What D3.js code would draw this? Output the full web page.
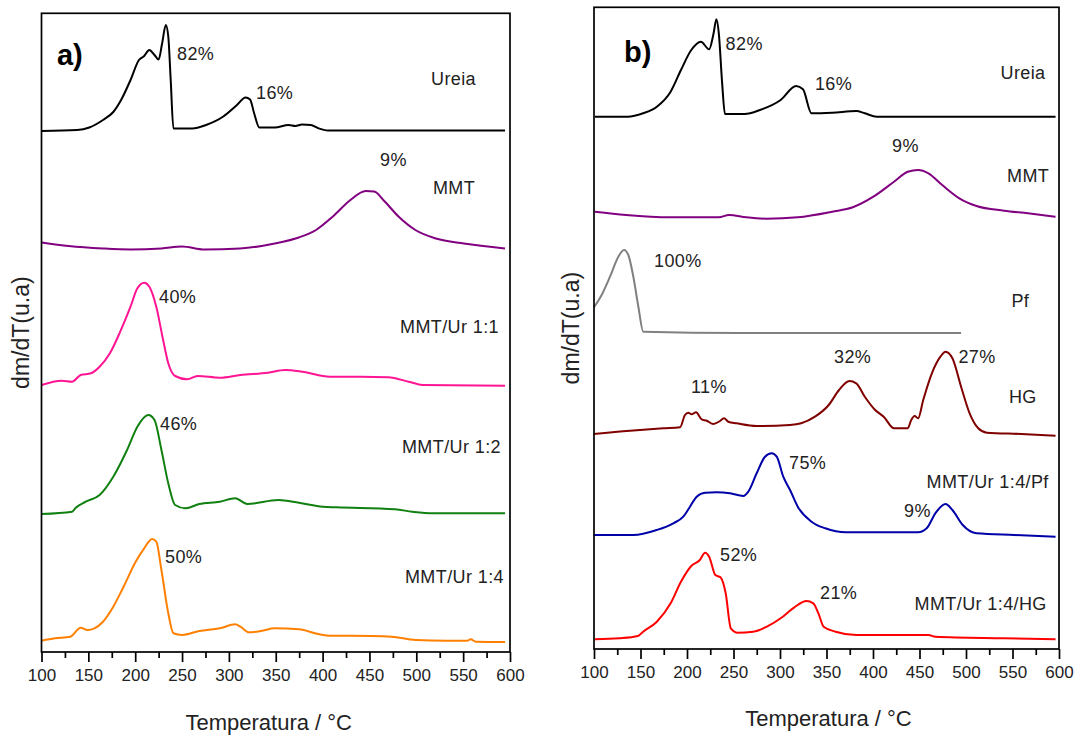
<!DOCTYPE html>
<html>
<head>
<meta charset="utf-8">
<script src="https://cdn.jsdelivr.net/npm/d3@7/dist/d3.min.js"></script>
<style>
  html, body { margin: 0; padding: 0; background: #fff; }
  svg { display: block; }
  text { font-family: "Liberation Sans", Arial, sans-serif; fill: #222; }
</style>
</head>
<body>
<svg id="chart" width="1080" height="737"></svg>
<script>
// ---------------- DATA ----------------
const tempMajorTicks = [100, 150, 200, 250, 300, 350, 400, 450, 500, 550, 600];
const tempMinorTicks = [125, 175, 225, 275, 325, 375, 425, 475, 525, 575];
const xTitle = "Temperatura / °C";
const yTitle = "dm/dT(u.a)";
const panelNames = ["a)", "b)"];

// Panel a series: [temperature °C, dm/dT (u.a., stacked)]
const ureiaA = [[100,52.1],[138,52.2],[151,52.45],[165.6,53.2],[176.6,54.0],[185.8,55.35],[195,57.2],[204,59.2],[209.6,59.6],[215,60.2],[220.6,59.7],[225,59.25],[228.7,60.85],[232.7,62.7],[235.3,61.55],[237.9,57.2],[240.8,52.35],[261,52.35],[275.6,52.7],[294,53.55],[308.6,54.7],[317.8,55.45],[322.6,55.25],[327,53.85],[332.5,52.45],[349,52.45],[363.7,52.7],[371,52.6],[378,52.75],[387.5,52.7],[394.8,52.4],[405.8,52.15],[594.7,52.15]];
const mmtA = [[100,40.95],[129,40.6],[165.6,40.35],[195,40.25],[228,40.35],[250,40.55],[273.8,40.25],[312,40.35],[349,40.85],[374.6,41.45],[393,42.2],[411,43.55],[429.7,45.2],[446,46.1],[455,46.05],[466.3,45.05],[481,43.55],[499,42.2],[521,41.35],[550.7,40.85],[594.7,40.35]];
const mmtUr11 = [[100,26.7],[121.6,27.13],[132.6,27.03],[141.8,27.7],[152.8,27.87],[162,28.53],[173,29.87],[184,32.03],[195,34.53],[202.3,36.37],[209.6,36.93],[215.1,36.53],[222.5,34.53],[229.8,31.2],[235.3,28.87],[242.6,27.6],[255.5,27.27],[266.5,27.6],[290.3,27.43],[312.3,27.7],[341.7,27.93],[360,28.2],[378.3,28.03],[407.7,27.53],[440.7,27.53],[470,27.47],[492,27.03],[506.7,26.7],[594.7,26.63]];
const mmtUr12 = [[100,13.8],[132.6,14.03],[136.3,14.4],[147.3,15.03],[162,15.7],[176.6,17.53],[191.3,20.2],[202.3,22.53],[214,23.7],[220.6,23.2],[228,20.2],[235.3,16.87],[242.6,14.7],[253.6,14.37],[268.3,14.8],[290.3,15.03],[306.8,15.37],[319.6,14.8],[352.7,15.2],[374.7,14.93],[400.3,14.53],[415,14.47],[477.3,14.27],[495.7,14.03],[517.7,13.87],[594.7,13.87]];
const mmtUr14 = [[100,1.13],[114.3,1.37],[130.8,1.53],[141.8,2.43],[149.1,2.2],[156.5,2.37],[165.6,3.03],[176.6,4.53],[187.6,6.53],[200.5,9.03],[209.6,10.37],[218,11.3],[222.5,11.03],[228,8.2],[235.3,3.87],[240.8,1.87],[250,1.7],[268.3,2.1],[290.3,2.37],[306.8,2.77],[312.3,2.53],[321.5,1.97],[334.3,2.1],[349,2.37],[374.7,2.27],[396.7,1.77],[407.7,1.63],[451.7,1.6],[473.7,1.53],[499.3,1.2],[532.3,1.13],[554.3,1.13],[558,1.27],[563.5,1.03],[594.7,1.0]];

// Panel b series
const ureiaB = [[101,53.23],[136.2,53.23],[152.8,53.57],[167.6,54.23],[182.4,55.73],[193.5,57.9],[204.6,59.9],[214.9,60.73],[223.8,59.97],[228.6,61.57],[231.6,62.97],[234.2,61.57],[237.8,56.57],[240.8,53.5],[261.9,53.5],[278.5,53.9],[300.7,54.9],[317.3,56.3],[324.7,55.97],[333.9,53.57],[356.1,53.63],[382,53.8],[391.2,53.57],[404.1,53.23],[596.3,53.23]];
const mmtB = [[101,43.73],[134.4,43.4],[182.4,43.17],[234.2,43.17],[245.2,43.4],[263.7,43.17],[285.9,43.03],[319.1,43.17],[356.1,43.73],[378.3,44.17],[400.4,45.23],[422.6,46.73],[437.4,47.73],[448.5,47.9],[459.6,47.57],[474.4,46.4],[492.8,45.07],[511.3,44.3],[540.9,43.83],[566.7,43.57],[596.3,43.23]];
const pfB = [[100,34.17],[108.2,35.4],[117.2,37.23],[126.2,39.23],[132.3,39.9],[136.9,39.4],[142.3,37.23],[147.7,34.23],[153,31.73],[257,31.6],[494.7,31.6]];
const hgB = [[99.5,21.5],[138.7,21.83],[174.5,22.07],[192.5,22.17],[197.8,23.4],[201.4,23.63],[205,23.47],[209.7,23.67],[215.8,22.97],[221.2,22.83],[228.3,22.5],[235.5,22.8],[239.8,23.07],[244.4,22.73],[253.4,22.57],[274.9,22.3],[310.8,22.4],[322.8,22.57],[337.6,23.23],[352.4,24.4],[363.5,25.9],[374.6,26.8],[382,26.57],[391.2,25.23],[402.3,23.9],[411.5,23.23],[422.6,22.07],[437.4,22.07],[441.1,22.9],[444.8,23.3],[448.5,23.07],[454,24.9],[463.3,27.57],[472.5,29.23],[478,29.73],[485.4,29.07],[494.7,26.23],[503.9,23.57],[513.2,22.07],[522.4,21.63],[559.4,21.5],[596.3,21.33]];
const mmtUr14Pf = [[99.5,11.4],[142.3,11.4],[167.4,11.9],[185.3,12.57],[196,13.23],[203.2,14.23],[210.4,15.23],[219.4,15.63],[231.9,15.67],[246.2,15.57],[260.5,15.3],[265.9,15.73],[274.9,17.57],[283.9,19.23],[291.1,19.57],[296.5,19.23],[303.5,17.23],[310.8,15.9],[319.1,14.23],[333.9,12.73],[348.7,12.07],[370.9,11.67],[448.5,11.67],[457.7,12.07],[467,13.57],[478,14.5],[485.4,13.9],[496.5,12.4],[511.3,11.57],[551.9,11.4],[596.3,11.23]];
const mmtUr14HG = [[101,0.97],[127,1.07],[147.3,1.3],[152.8,1.73],[167.6,2.73],[182.4,4.57],[193.5,6.73],[204.6,8.3],[213.8,8.9],[219.4,9.63],[223.8,9.23],[230.5,7.4],[236,7.17],[241.6,5.57],[247.1,2.07],[254.5,1.63],[271.1,1.73],[285.9,2.23],[300.7,3.07],[315.4,4.17],[328.4,4.8],[335.8,4.57],[341.3,3.57],[346.9,2.23],[359.8,1.73],[382,1.4],[430,1.4],[459.6,1.4],[467,1.23],[540.9,1.07],[596.3,0.97]];

// Series labels and peak percentages: [text, temperature, u.a.]
const labelsA = [["82%",244.6,59.2],["16%",328.9,55.3],["Ureia",515.7,56.7],["9%",461.3,48.6],["MMT",517.8,45.8],["40%",225.4,34.9],["MMT/Ur 1:1",482.6,31.9],["46%",226.5,22.2],["MMT/Ur 1:2",484.7,19.9],["50%",231.8,8.9],["MMT/Ur 1:4",487.9,6.9]];
const labelsB = [["82%",241.5,59.95],["16%",337.6,55.95],["Ureia",537.1,57.0],["9%",420.4,49.7],["MMT",544.1,46.7],["100%",164.5,38.2],["Pf",548.9,34.2],["11%",204.3,25.6],["32%",358.1,28.6],["27%",491.9,28.6],["HG",546.2,24.6],["75%",309.7,18.0],["MMT/Ur 1:4/Pf",457.6,16.1],["9%",433.3,13.2],["52%",235.5,8.8],["21%",343.0,5.0],["MMT/Ur 1:4/HG",444.7,3.9]];

// ---------------- DRAW ----------------
const svg = d3.select("#chart");

function drawPanel(cfg) {
  const x = d3.scaleLinear().domain([100, 600]).range([cfg.left, cfg.right]);
  const y = d3.scaleLinear().domain([0, cfg.yMax]).range([cfg.bottom, cfg.top]);
  const g = svg.append("g");

  const line = d3.line().x(d => x(d[0])).y(d => y(d[1])).curve(d3.curveMonotoneX);
  cfg.series.forEach(s => {
    g.append("path").datum(s.data)
      .attr("d", line).attr("fill", "none")
      .attr("stroke", s.color).attr("stroke-width", 2)
      .attr("stroke-linejoin", "round");
  });

  // frame
  g.append("rect").attr("x", cfg.left).attr("y", cfg.top)
    .attr("width", cfg.right - cfg.left).attr("height", cfg.bottom - cfg.top)
    .attr("fill", "none").attr("stroke", "#000").attr("stroke-width", 1.7);

  // axis major
  const ax = g.append("g").attr("transform", `translate(0,${cfg.bottom})`)
    .call(d3.axisBottom(x).tickValues(tempMajorTicks).tickSize(10).tickSizeOuter(0).tickPadding(7).tickFormat(d3.format("d")));
  ax.select(".domain").remove();
  ax.selectAll(".tick line").attr("stroke", "#000").attr("stroke-width", 1.7);
  ax.selectAll(".tick text").attr("font-size", 17).attr("fill", "#222")
    .attr("font-family", "'Liberation Sans', Arial, sans-serif");
  const axm = g.append("g").attr("transform", `translate(0,${cfg.bottom})`)
    .call(d3.axisBottom(x).tickValues(tempMinorTicks).tickSize(6).tickSizeOuter(0).tickFormat(""));
  axm.select(".domain").remove();
  axm.selectAll(".tick line").attr("stroke", "#000").attr("stroke-width", 1.7);

  // labels
  cfg.labels.forEach(l => {
    g.append("text").attr("x", x(l[1])).attr("y", y(l[2]))
      .attr("font-size", 18).attr("letter-spacing", 0.4).text(l[0]);
  });

  // panel name
  g.append("text").attr("x", x(cfg.nameAt[0])).attr("y", y(cfg.nameAt[1]))
    .attr("font-family", "'Liberation Serif', 'Times New Roman', serif")
    .attr("font-weight", "bold").attr("font-size", 29).style("fill", "#000")
    .text(cfg.name);

  // titles
  g.append("text").attr("x", (cfg.left + cfg.right) / 2 + cfg.xTitleShift).attr("y", cfg.xTitleY)
    .attr("text-anchor", "middle").attr("font-size", 22).text(xTitle);
  g.append("text")
    .attr("transform", `translate(${cfg.yTitleX},${(cfg.top + cfg.bottom) / 2}) rotate(-90)`)
    .attr("text-anchor", "middle").attr("font-size", 23).text(yTitle);
}

drawPanel({
  left: 41.5, right: 510, top: 13.3, bottom: 652, yMax: 63.87,
  name: panelNames[0], nameAt: [116.5, 58.7],
  xTitleY: 730, xTitleShift: -7, yTitleX: 29,
  series: [
    {data: ureiaA, color: "#000000"},
    {data: mmtA, color: "#800080"},
    {data: mmtUr11, color: "#ff1493"},
    {data: mmtUr12, color: "#108010"},
    {data: mmtUr14, color: "#ff8000"}
  ],
  labels: labelsA
});

drawPanel({
  left: 594, right: 1059, top: 7.3, bottom: 649, yMax: 64.17,
  name: panelNames[1], nameAt: [132.3, 58.7],
  xTitleY: 726, xTitleShift: 2, yTitleX: 579,
  series: [
    {data: ureiaB, color: "#000000"},
    {data: mmtB, color: "#800080"},
    {data: pfB, color: "#808080"},
    {data: hgB, color: "#800000"},
    {data: mmtUr14Pf, color: "#0000a8"},
    {data: mmtUr14HG, color: "#ff0000"}
  ],
  labels: labelsB
});
</script>
</body>
</html>
